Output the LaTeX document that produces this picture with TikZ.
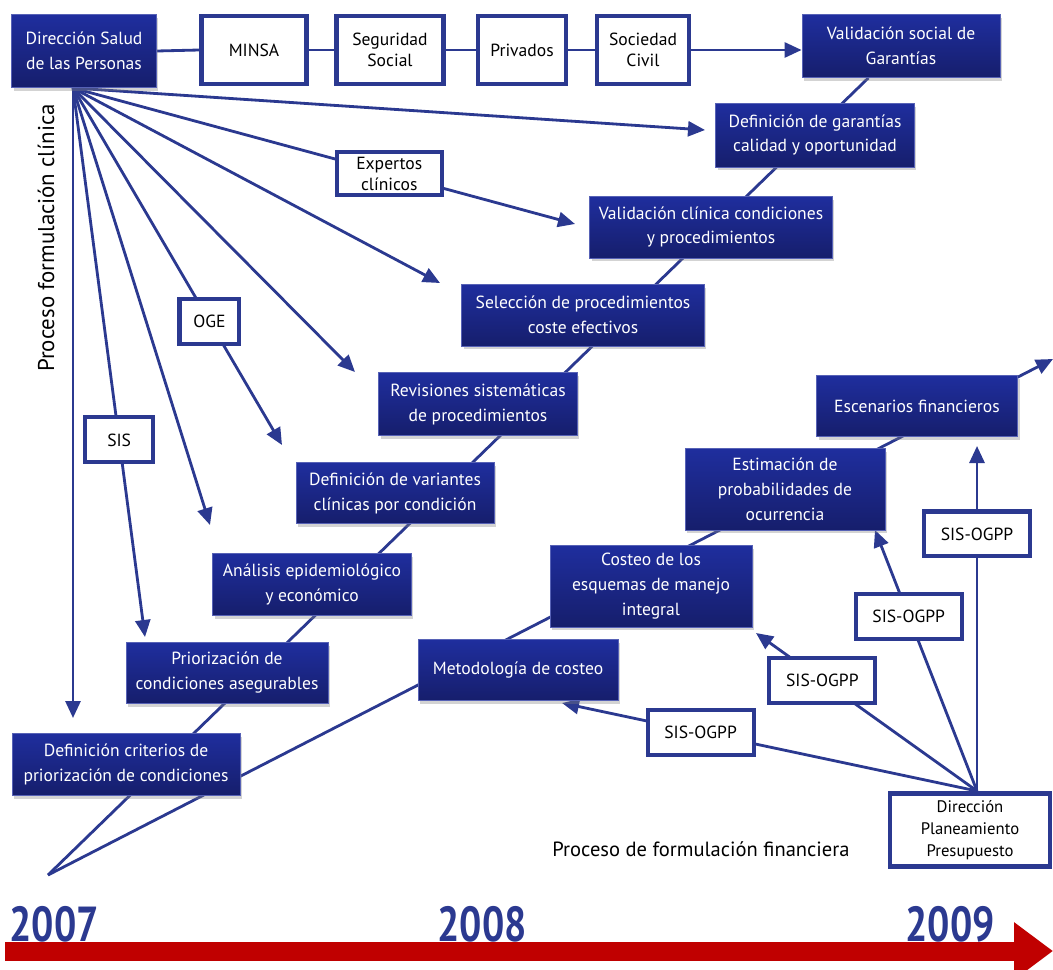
\documentclass[tikz,border=0pt]{standalone}
\usepackage{fontspec}
\setmainfont{PT Sans}
\usetikzlibrary{arrows.meta,shadows,backgrounds}
\definecolor{dblue}{RGB}{43,57,144}
\definecolor{btop}{RGB}{31,46,158}
\definecolor{bbot}{RGB}{22,30,108}
\definecolor{tred}{RGB}{192,0,0}
\begin{document}
\begin{tikzpicture}[x=0.02cm,y=-0.02cm,
bluebox/.style={rectangle, draw=btop!75!white, line width=0.5pt, top color=btop, bottom color=bbot, text=white, align=center, inner sep=0pt, font=\fontsize{10}{14.2}\selectfont, drop shadow={shadow xshift=0.04cm, shadow yshift=-0.07cm, opacity=0.35}},
whitebox/.style={rectangle, draw=dblue, line width=2.3pt, fill=white, align=center, inner sep=0pt, font=\fontsize{10}{12}\selectfont},
conn/.style={draw=dblue, line width=1.6pt},
arr/.style={conn, -{Triangle[length=0.34cm, width=0.3cm]}},
year/.style={text=dblue, inner sep=0pt, font=\fontsize{28}{28}\selectfont\bfseries}
]
\useasboundingbox (0,0) rectangle (1053,969);

\node[bluebox, minimum width=2.9cm, minimum height=1.46cm] (DSP) at (84,51) {Dirección Salud\\de las Personas};
\node[whitebox, minimum width=2.1cm, minimum height=1.36cm] (MINSA) at (254,50) {MINSA};
\node[whitebox, minimum width=2.14cm, minimum height=1.36cm] (SegSoc) at (390,50) {Seguridad\\Social};
\node[whitebox, minimum width=1.76cm, minimum height=1.36cm] (Priv) at (522,50) {Privados};
\node[whitebox, minimum width=1.84cm, minimum height=1.36cm] (SocCiv) at (643,50) {Sociedad\\Civil};
\node[bluebox, minimum width=3.96cm, minimum height=1.26cm] (ValSoc) at (901,46) {Validación social de\\Garantías};

\node[bluebox, minimum width=3.98cm, minimum height=1.28cm] (DefGar) at (815,135) {Definición de garantías\\calidad y oportunidad};
\node[bluebox, minimum width=4.86cm, minimum height=1.24cm] (ValCli) at (711,227) {Validación clínica condiciones\\y procedimientos};
\node[bluebox, minimum width=4.86cm, minimum height=1.24cm] (SelProc) at (583,315) {Selección de procedimientos\\coste efectivos};
\node[bluebox, minimum width=3.98cm, minimum height=1.26cm] (RevSis) at (478,404) {Revisiones sistemáticas\\de procedimientos};
\node[bluebox, minimum width=3.96cm, minimum height=1.22cm] (DefVar) at (395,493) {Definición de variantes\\clínicas por condición};
\node[bluebox, minimum width=3.98cm, minimum height=1.24cm] (AnaEpi) at (312,584) {Análisis epidemiológico\\y económico};
\node[bluebox, minimum width=4.04cm, minimum height=1.22cm] (PriCon) at (227,673) {Priorización de\\condiciones asegurables};
\node[bluebox, minimum width=4.56cm, minimum height=1.24cm] (DefCri) at (126,764) {Definición criterios de\\priorización de condiciones};

\node[bluebox, minimum width=4.0cm, minimum height=1.22cm] (MetCos) at (518,670) {Metodología de costeo};
\node[bluebox, minimum width=4.04cm, minimum height=1.64cm] (CosEsq) at (651,586) {Costeo de los\\esquemas de manejo\\integral};
\node[bluebox, minimum width=4.0cm, minimum height=1.64cm] (EstPro) at (785,489) {Estimación de\\probabilidades de\\ocurrencia};
\node[bluebox, minimum width=4.02cm, minimum height=1.22cm] (EscFin) at (917,406) {Escenarios financieros};
\node[whitebox, minimum width=3.2cm, minimum height=1.46cm, font=\fontsize{9.5}{12.5}\selectfont] (DPP) at (970,830) {Dirección\\Planeamiento\\Presupuesto};

\node[rotate=90, font=\fontsize{13}{14}\selectfont] (PFC) at (46,238) {Proceso formulación clínica};
\node[font=\fontsize{11.7}{13}\selectfont] (PFF) at (701,849) {Proceso de formulación financiera};

\coordinate (o) at (73,88);
\coordinate (V0) at (48,875);
\coordinate (E) at (1053,359);
\coordinate (p) at (977,791);
\coordinate (tDefCri) at (73,718);
\coordinate (tPriCon) at (145,637);
\coordinate (tAnaEpi) at (210,525);
\coordinate (tDefVar) at (282,445);
\coordinate (tRevSis) at (355,372);
\coordinate (tSelProc) at (440,283);
\coordinate (tValCli) at (575,224);
\coordinate (tDefGar) at (705,130);
\coordinate (tMetCos) at (562,703);
\coordinate (tCosEsq) at (756,633);
\coordinate (tEstPro) at (875,530);
\coordinate (tEscFin) at (977,446);

\begin{pgfonlayer}{background}
\draw[conn] (V0) -- (ValSoc);
\draw[arr] (V0) -- (E);

\draw[conn] (DSP.east) -- (MINSA.west);
\draw[conn] (MINSA.east) -- (SegSoc.west);
\draw[conn] (SegSoc.east) -- (Priv.west);
\draw[conn] (Priv.east) -- (SocCiv.west);
\draw[arr] (SocCiv.east) -- (SocCiv.east -| ValSoc.west);

\draw[arr] (o) -- (tDefCri);
\draw[arr] (o) -- node[whitebox, pos=0.641, minimum width=1.36cm, minimum height=0.9cm] (SIS) {SIS} (tPriCon);
\draw[arr] (o) -- (tAnaEpi);
\draw[arr] (o) -- node[whitebox, pos=0.653, minimum width=1.2cm, minimum height=0.9cm] (OGE) {OGE} (tDefVar);
\draw[arr] (o) -- (tRevSis);
\draw[arr] (o) -- (tSelProc);
\draw[arr] (o) -- node[whitebox, pos=0.63, minimum width=2.1cm, minimum height=0.86cm] (Exp) {Expertos\\clínicos} (tValCli);
\draw[arr] (o) -- (tDefGar);

\draw[arr] (p) -- node[whitebox, pos=0.666, minimum width=2.12cm, minimum height=0.9cm] (SO1) {SIS-OGPP} (tMetCos);
\draw[arr] (p) -- node[whitebox, pos=0.70, minimum width=2.12cm, minimum height=0.9cm] (SO2) {SIS-OGPP} (tCosEsq);
\draw[arr] (p) -- node[whitebox, pos=0.67, minimum width=2.12cm, minimum height=0.9cm] (SO3) {SIS-OGPP} (tEstPro);
\draw[arr] (p) -- node[whitebox, pos=0.745, minimum width=2.12cm, minimum height=0.9cm] (SO4) {SIS-OGPP} (tEscFin);
\end{pgfonlayer}

\coordinate (R0) at (5,951);
\coordinate (R1) at (1053,951);
\draw[tred, line width=0.38cm, -{Triangle[length=0.78cm, width=1.1cm]}] (R0) -- (R1);
\node[year] (Y7) at (54,924) {\scalebox{0.8}[1]{2007}};
\node[year] (Y8) at (482,924) {\scalebox{0.8}[1]{2008}};
\node[year] (Y9) at (950,924) {\scalebox{0.8}[1]{2009}};
\end{tikzpicture}
\end{document}
